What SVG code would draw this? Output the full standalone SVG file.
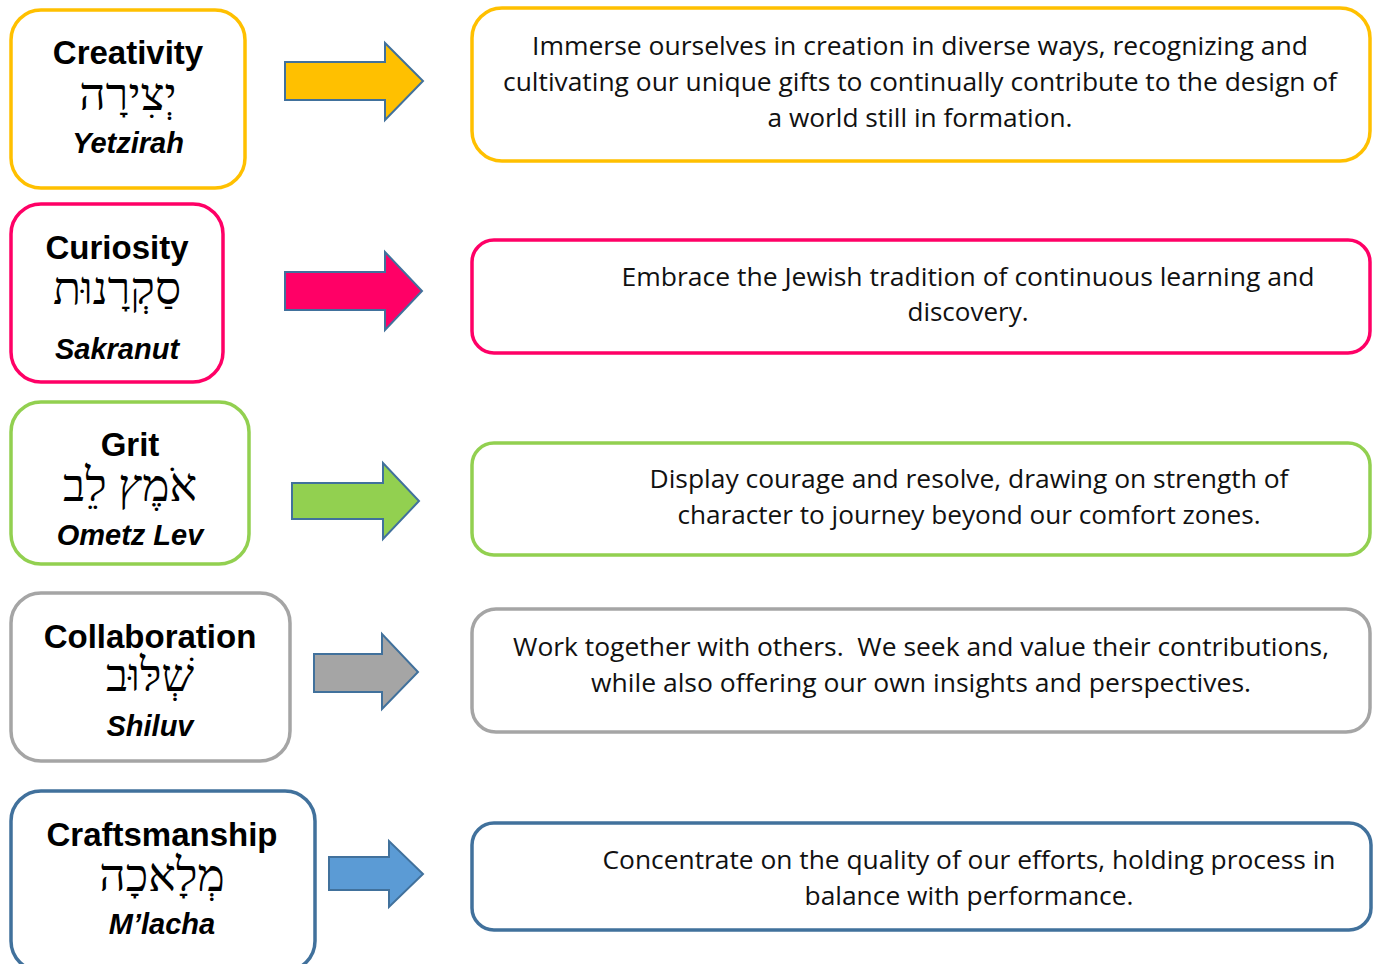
<svg xmlns="http://www.w3.org/2000/svg" width="1376" height="964" viewBox="0 0 1376 964">
<style>
.box{fill:#fff;stroke-width:3.5}
.y{stroke:#FFC000}.p{stroke:#FF0066}.g{stroke:#92D050}.s{stroke:#A5A5A5}.b{stroke:#41719C}
.arr{stroke:#41719C;stroke-width:2}
.t{font-family:"Liberation Sans",Arial,sans-serif;font-weight:bold;font-size:33px;text-anchor:middle;fill:#000}
.h{font-family:"Liberation Serif","DejaVu Serif",serif;font-size:46px;text-anchor:middle;fill:#000}
.i{font-family:"Liberation Sans",Arial,sans-serif;font-weight:bold;font-style:italic;font-size:29px;text-anchor:middle;fill:#000}
.d{font-family:"Open Sans","Liberation Sans",sans-serif;font-size:25px;text-anchor:middle;fill:#111}
</style>
<rect width="1376" height="964" fill="#fff"/>
<g id="creativity">
<rect class="box y" x="11" y="10" width="234" height="178" rx="30"/>
<text class="t" x="128" y="64">Creativity</text>
<text class="h" x="128" y="110" direction="rtl">יְצִירָה</text>
<text class="i" x="128" y="153">Yetzirah</text>
</g>
<g id="curiosity">
<rect class="box p" x="11" y="204" width="212" height="178" rx="30"/>
<text class="t" x="117" y="259">Curiosity</text>
<text class="h" x="117" y="304" direction="rtl">סַקְרָנוּת</text>
<text class="i" x="117" y="359">Sakranut</text>
</g>
<g id="grit">
<rect class="box g" x="11" y="402" width="238" height="162" rx="30"/>
<text class="t" x="130" y="456">Grit</text>
<text class="h" x="130" y="501" direction="rtl">אֹמֶץ לֵב</text>
<text class="i" x="130" y="545">Ometz Lev</text>
</g>
<g id="collaboration">
<rect class="box s" x="11" y="593" width="279" height="168" rx="30"/>
<text class="t" x="150" y="648">Collaboration</text>
<text class="h" x="150" y="691" direction="rtl">שְׁלּוּב</text>
<text class="i" x="150" y="736">Shiluv</text>
</g>
<g id="craftsmanship">
<rect class="box b" x="11" y="791" width="304" height="180" rx="30"/>
<text class="t" x="162" y="846">Craftsmanship</text>
<text class="h" x="162" y="891" direction="rtl">מְלָאכָה</text>
<text class="i" x="162" y="934">M’lacha</text>
</g>
<g id="desc1">
<rect class="box y" x="472" y="8" width="898" height="153" rx="30"/>
<text class="d" x="920" y="55" textLength="776" lengthAdjust="spacingAndGlyphs">Immerse ourselves in creation in diverse ways, recognizing and</text>
<text class="d" x="920" y="91" textLength="834" lengthAdjust="spacingAndGlyphs">cultivating our unique gifts to continually contribute to the design of</text>
<text class="d" x="920" y="127" textLength="305" lengthAdjust="spacingAndGlyphs">a world still in formation.</text>
</g>
<g id="desc2">
<rect class="box p" x="472" y="240" width="898" height="113" rx="22"/>
<text class="d" x="968" y="286" textLength="693" lengthAdjust="spacingAndGlyphs">Embrace the Jewish tradition of continuous learning and</text>
<text class="d" x="968" y="321" textLength="121" lengthAdjust="spacingAndGlyphs">discovery.</text>
</g>
<g id="desc3">
<rect class="box g" x="472" y="443" width="898" height="112" rx="22"/>
<text class="d" x="969" y="488" textLength="639" lengthAdjust="spacingAndGlyphs">Display courage and resolve, drawing on strength of</text>
<text class="d" x="969" y="524" textLength="583" lengthAdjust="spacingAndGlyphs">character to journey beyond our comfort zones.</text>
</g>
<g id="desc4">
<rect class="box s" x="472" y="609" width="898" height="123" rx="24"/>
<text class="d" x="921" y="656" xml:space="preserve" textLength="816" lengthAdjust="spacingAndGlyphs">Work together with others.  We seek and value their contributions,</text>
<text class="d" x="921" y="692" textLength="660" lengthAdjust="spacingAndGlyphs">while also offering our own insights and perspectives.</text>
</g>
<g id="desc5">
<rect class="box b" x="472" y="823" width="899" height="107" rx="22"/>
<text class="d" x="969" y="869" textLength="733" lengthAdjust="spacingAndGlyphs">Concentrate on the quality of our efforts, holding process in</text>
<text class="d" x="969" y="905" textLength="329" lengthAdjust="spacingAndGlyphs">balance with performance.</text>
</g>
<g id="connectors">
<polygon class="arr" fill="#FFC000" points="285,62 385,62 385,43 423,81 385,120 385,100 285,100"/>
<polygon class="arr" fill="#FF0066" points="285,272 385,272 385,252 422,291 385,330 385,310 285,310"/>
<polygon class="arr" fill="#92D050" points="292,483 383,483 383,463 419,501 383,539 383,519 292,519"/>
<polygon class="arr" fill="#A5A5A5" points="314,654 382,654 382,634 418,672 382,709 382,692 314,692"/>
<polygon class="arr" fill="#5B9BD5" points="329,857 389,857 389,841 423,874 389,907 389,890 329,890"/>
</g>
</svg>
